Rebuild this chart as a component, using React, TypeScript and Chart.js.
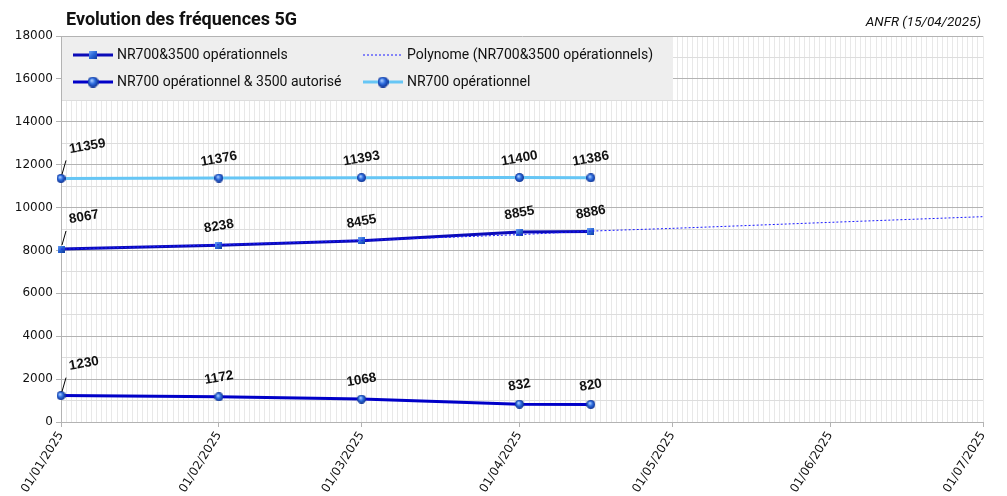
import React, { useEffect, useRef } from 'react';
import { Chart, registerables } from 'chart.js';

Chart.register(...registerables);

// jours écoulés depuis le 01/01/2025
const pointDays = [0, 31, 59, 90, 104];
const nr700et3500 = [8067, 8238, 8455, 8855, 8886];
const nr700et3500Autorise = [1230, 1172, 1068, 832, 820];
const nr700 = [11359, 11376, 11393, 11400, 11386];

// courbe de tendance
const trendDays = [0, 31, 59, 90, 104, 120, 151, 181];
const trendValues = [8060, 8265, 8470, 8740, 8900, 9030, 9310, 9575];

const monthDays = [0, 31, 59, 90, 120, 151, 181];
const monthLabels = ['01/01/2025', '01/02/2025', '01/03/2025', '01/04/2025', '01/05/2025', '01/06/2025', '01/07/2025'];

const COLOR_3500 = '#0b0bb8';
const COLOR_AUTORISE = '#0000c8';
const COLOR_700 = '#66c6f5';
const COLOR_TREND = '#1a1aff';

const toXY = (xs: number[], ys: number[]) => xs.map((x, i) => ({ x, y: ys[i] }));

function makeSphere(d: number) {
  const c = document.createElement('canvas');
  c.width = d;
  c.height = d;
  const g = c.getContext('2d')!;
  const grad = g.createRadialGradient(d * 0.38, d * 0.35, d * 0.05, d / 2, d / 2, d / 2);
  grad.addColorStop(0, '#a8ccff');
  grad.addColorStop(0.45, '#2f6ee0');
  grad.addColorStop(1, '#0c2f90');
  g.fillStyle = grad;
  g.beginPath();
  g.arc(d / 2, d / 2, d / 2, 0, Math.PI * 2);
  g.fill();
  return c;
}

function makeCube(d: number) {
  const c = document.createElement('canvas');
  c.width = d;
  c.height = d;
  const g = c.getContext('2d')!;
  const grad = g.createLinearGradient(0, 0, d, d);
  grad.addColorStop(0, '#6fa4f5');
  grad.addColorStop(0.5, '#2a66d8');
  grad.addColorStop(1, '#0f3a9c');
  g.fillStyle = grad;
  g.fillRect(0, 0, d, d);
  return c;
}

const App: React.FC = () => {
  const canvasRef = useRef<HTMLCanvasElement | null>(null);

  useEffect(() => {
    const canvas = canvasRef.current;
    if (!canvas) return;

    const sphere = makeSphere(9);
    const cube = makeCube(7);
    const sphereBig = makeSphere(11);
    const cubeLegend = makeCube(8);

    const labeled = [
      { index: 1, values: nr700et3500 },
      { index: 2, values: nr700et3500Autorise },
      { index: 3, values: nr700 },
    ];

    const decorPlugin = {
      id: 'decor',
      afterDraw(chart: Chart) {
        const ctx = chart.ctx;
        ctx.save();

        // titre
        ctx.fillStyle = '#111';
        ctx.textBaseline = 'alphabetic';
        ctx.textAlign = 'left';
        ctx.font = 'bold 18px Roboto';
        ctx.fillText('Evolution des fréquences 5G', 66, 25);
        ctx.textAlign = 'right';
        ctx.font = 'italic 13.5px Roboto';
        ctx.fillText('ANFR (15/04/2025)', 981, 26);

        // légende
        ctx.fillStyle = '#eeeeee';
        ctx.fillRect(62, 37, 611, 63);
        const items = [
          { x: 73, y: 55, ds: 1, color: COLOR_3500, w: 3, dash: [] as number[], marker: cubeLegend },
          { x: 363, y: 55, ds: 0, color: COLOR_TREND, w: 1, dash: [2, 2], marker: null },
          { x: 73, y: 82, ds: 2, color: COLOR_AUTORISE, w: 3, dash: [] as number[], marker: sphereBig },
          { x: 363, y: 82, ds: 3, color: COLOR_700, w: 3, dash: [] as number[], marker: sphereBig },
        ];
        items.forEach(it => {
          ctx.strokeStyle = it.color;
          ctx.lineWidth = it.w;
          ctx.setLineDash(it.dash);
          ctx.beginPath();
          ctx.moveTo(it.x, it.y);
          ctx.lineTo(it.x + 40, it.y);
          ctx.stroke();
          ctx.setLineDash([]);
          if (it.marker) {
            ctx.drawImage(it.marker, it.x + 20 - it.marker.width / 2, it.y - it.marker.height / 2);
          }
          ctx.fillStyle = '#111';
          ctx.font = '14px Roboto';
          ctx.textAlign = 'left';
          ctx.textBaseline = 'middle';
          ctx.fillText(String(chart.data.datasets[it.ds].label), it.x + 44, it.y);
        });

        // étiquettes de valeurs
        ctx.font = 'bold 13.5px "Liberation Sans"';
        ctx.textAlign = 'center';
        ctx.textBaseline = 'middle';
        labeled.forEach(({ index, values }) => {
          const meta = chart.getDatasetMeta(index);
          meta.data.forEach((pt, j) => {
            const txt = String(values[j]);
            let cx = pt.x;
            let cy = pt.y - 19;
            if (j === 0) {
              const w = ctx.measureText(txt).width;
              cx = pt.x + 8 + w / 2;
              cy = pt.y - 32;
              ctx.strokeStyle = '#000';
              ctx.lineWidth = 1;
              ctx.beginPath();
              ctx.moveTo(pt.x + 1, pt.y - 4);
              ctx.lineTo(pt.x + 5, pt.y - 18);
              ctx.stroke();
            }
            ctx.save();
            ctx.translate(cx, cy);
            ctx.rotate((-10 * Math.PI) / 180);
            ctx.fillStyle = '#111';
            ctx.fillText(txt, 0, 0);
            ctx.restore();
          });
        });

        ctx.restore();
      },
    };

    const chart = new Chart(canvas, {
      type: 'line',
      data: {
        datasets: [
          {
            label: 'Polynome (NR700&3500 opérationnels)',
            data: toXY(trendDays, trendValues),
            borderColor: COLOR_TREND,
            borderWidth: 1,
            borderDash: [2, 2],
            pointRadius: 0,
            tension: 0.3,
          },
          {
            label: 'NR700&3500 opérationnels',
            data: toXY(pointDays, nr700et3500),
            borderColor: COLOR_3500,
            borderWidth: 3,
            pointStyle: cube,
            pointRadius: 4,
            clip: false,
          },
          {
            label: 'NR700 opérationnel & 3500 autorisé',
            data: toXY(pointDays, nr700et3500Autorise),
            borderColor: COLOR_AUTORISE,
            borderWidth: 3,
            pointStyle: sphere,
            pointRadius: 4,
            clip: false,
          },
          {
            label: 'NR700 opérationnel',
            data: toXY(pointDays, nr700),
            borderColor: COLOR_700,
            borderWidth: 3,
            pointStyle: sphere,
            pointRadius: 4,
            clip: false,
          },
        ],
      },
      options: {
        responsive: false,
        animation: false,
        layout: { padding: { top: 36, right: 24, left: 0, bottom: 0 } },
        plugins: {
          legend: { display: false },
          tooltip: { enabled: false },
          title: { display: false },
        },
        scales: {
          x: {
            type: 'linear',
            min: 0,
            max: 181,
            afterBuildTicks: (scale: any) => {
              const t = [];
              for (let d = 0; d <= 181; d++) t.push({ value: d });
              scale.ticks = t;
            },
            afterFit: (scale: any) => {
              scale.height = 74;
            },
            ticks: {
              autoSkip: false,
              minRotation: 58,
              maxRotation: 58,
              padding: 2,
              color: '#111',
              font: { family: 'DejaVu Sans', size: 12 },
              callback: (v: any) => {
                const i = monthDays.indexOf(Number(v));
                return i >= 0 ? monthLabels[i] : '';
              },
            },
            grid: {
              color: '#e8e8e8',
              tickLength: 5,
              tickColor: (c: any) => (monthDays.includes(c.tick?.value) ? '#b3b3b3' : 'rgba(0,0,0,0)'),
            },
            border: { color: '#b3b3b3' },
          },
          y: {
            min: 0,
            max: 18000,
            afterFit: (scale: any) => {
              scale.width = 61;
            },
            ticks: {
              stepSize: 1000,
              autoSkip: false,
              padding: 3,
              color: '#111',
              font: { family: 'DejaVu Sans', size: 12 },
              callback: (v: any) => (Number(v) % 2000 === 0 ? String(v) : ''),
            },
            grid: {
              color: (c: any) => (c.tick?.value % 2000 === 0 ? '#b3b3b3' : '#dddddd'),
              tickLength: 5,
              tickColor: (c: any) => (c.tick?.value % 2000 === 0 ? '#b3b3b3' : 'rgba(0,0,0,0)'),
            },
            border: { color: '#b3b3b3' },
          },
        },
      },
      plugins: [decorPlugin],
    });

    return () => {
      chart.destroy();
    };
  }, []);

  return (
    <div style={{ position: 'fixed', left: 0, top: 0, width: 1007, height: 496, background: '#fff' }}>
      <canvas ref={canvasRef} width={1007} height={496} />
    </div>
  );
};

export default App;
